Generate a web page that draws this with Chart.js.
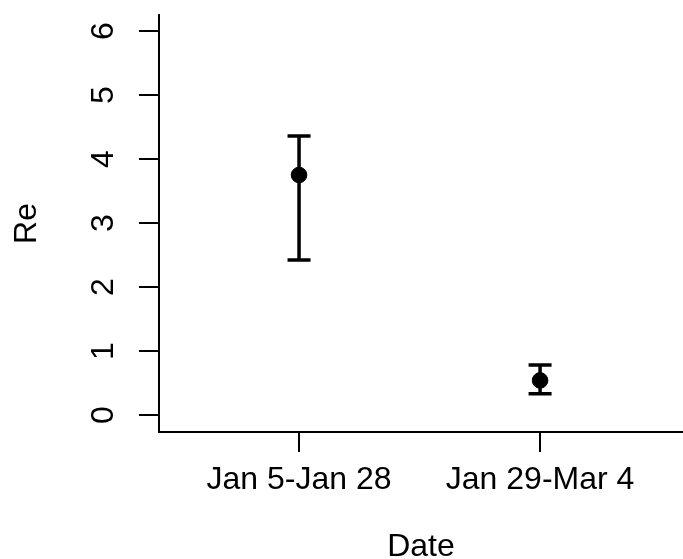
<!DOCTYPE html>
<html>
<head>
<meta charset="utf-8">
<script src="https://cdn.jsdelivr.net/npm/chart.js@4/dist/chart.umd.min.js"></script>
<style>
html,body{margin:0;padding:0;background:#fff;}
canvas{display:block;}
</style>
</head>
<body>
<canvas id="c" width="683" height="559"></canvas>
<script>
const categories = ['Jan 5-Jan 28', 'Jan 29-Mar 4'];
const reValues = [3.75, 0.54];
const lowerValues = [2.42, 0.33];
const upperValues = [4.36, 0.78];
const yTickValues = [0, 1, 2, 3, 4, 5, 6];

const FONT = '"Liberation Sans", Arial, Helvetica, sans-serif';

const errorBars = {
  id: 'errorBars',
  beforeDatasetsDraw(chart) {
    const {ctx, scales: {x, y}} = chart;
    ctx.save();
    ctx.strokeStyle = '#000';
    ctx.lineWidth = 3.5;
    ctx.lineCap = 'butt';
    categories.forEach((c, i) => {
      const px = x.getPixelForValue(i + 1);
      const yl = y.getPixelForValue(lowerValues[i]);
      const yu = y.getPixelForValue(upperValues[i]);
      ctx.beginPath();
      ctx.moveTo(px, yl); ctx.lineTo(px, yu);
      ctx.moveTo(px - 11.5, yl); ctx.lineTo(px + 11.5, yl);
      ctx.moveTo(px - 11.5, yu); ctx.lineTo(px + 11.5, yu);
      ctx.stroke();
    });
    ctx.restore();
  }
};

const rotatedYLabels = {
  id: 'rotatedYLabels',
  afterDraw(chart) {
    const {ctx, scales: {y}} = chart;
    ctx.save();
    ctx.fillStyle = '#000';
    ctx.font = '32px ' + FONT;
    ctx.textAlign = 'center';
    ctx.textBaseline = 'alphabetic';
    y.ticks.forEach(t => {
      const py = y.getPixelForValue(t.value);
      ctx.save();
      ctx.translate(113, py);
      ctx.rotate(-Math.PI / 2);
      ctx.fillText(String(t.value), 0, 0);
      ctx.restore();
    });
    ctx.restore();
  }
};

new Chart(document.getElementById('c'), {
  type: 'scatter',
  data: {
    datasets: [{
      data: categories.map((c, i) => ({x: i + 1, y: reValues[i]})),
      backgroundColor: '#000',
      borderColor: '#000',
      pointRadius: 7.8,
      pointHoverRadius: 7.8
    }]
  },
  options: {
    responsive: false,
    devicePixelRatio: 1,
    animation: false,
    layout: {autoPadding: false, padding: {top: 15, right: 0, bottom: 0, left: 0}},
    plugins: {legend: {display: false}, tooltip: {enabled: false}},
    scales: {
      x: {
        type: 'linear',
        min: 0.419,
        max: 2.593,
        afterBuildTicks: s => { s.ticks = [{value: 1}, {value: 2}]; },
        afterFit: s => { s.height = 127; s.paddingLeft = 0; s.paddingRight = 0; },
        ticks: {
          callback: v => categories[v - 1],
          font: {family: FONT, size: 32},
          color: '#000',
          padding: 9,
          autoSkip: false,
          maxRotation: 0,
          minRotation: 0
        },
        grid: {display: true, drawOnChartArea: false, drawTicks: true, tickLength: 20, color: '#000', lineWidth: 2},
        border: {display: true, color: '#000', width: 2},
        title: {
          display: true,
          text: 'Date',
          color: '#000',
          font: {family: FONT, size: 32, lineHeight: 1.2},
          padding: {top: 0, bottom: -7}
        }
      },
      y: {
        min: -0.266,
        max: 6.25,
        afterBuildTicks: s => { s.ticks = yTickValues.map(v => ({value: v})); },
        afterFit: s => { s.width = 159; s.paddingTop = 0; s.paddingBottom = 0; },
        ticks: {display: false},
        grid: {display: true, drawOnChartArea: false, drawTicks: true, tickLength: 20, color: '#000', lineWidth: 2},
        border: {display: true, color: '#000', width: 2},
        title: {
          display: true,
          text: 'Re',
          color: '#000',
          font: {family: FONT, size: 32, lineHeight: 1.2},
          padding: {top: 8, bottom: 0}
        }
      }
    }
  },
  plugins: [errorBars, rotatedYLabels]
});
</script>
</body>
</html>
